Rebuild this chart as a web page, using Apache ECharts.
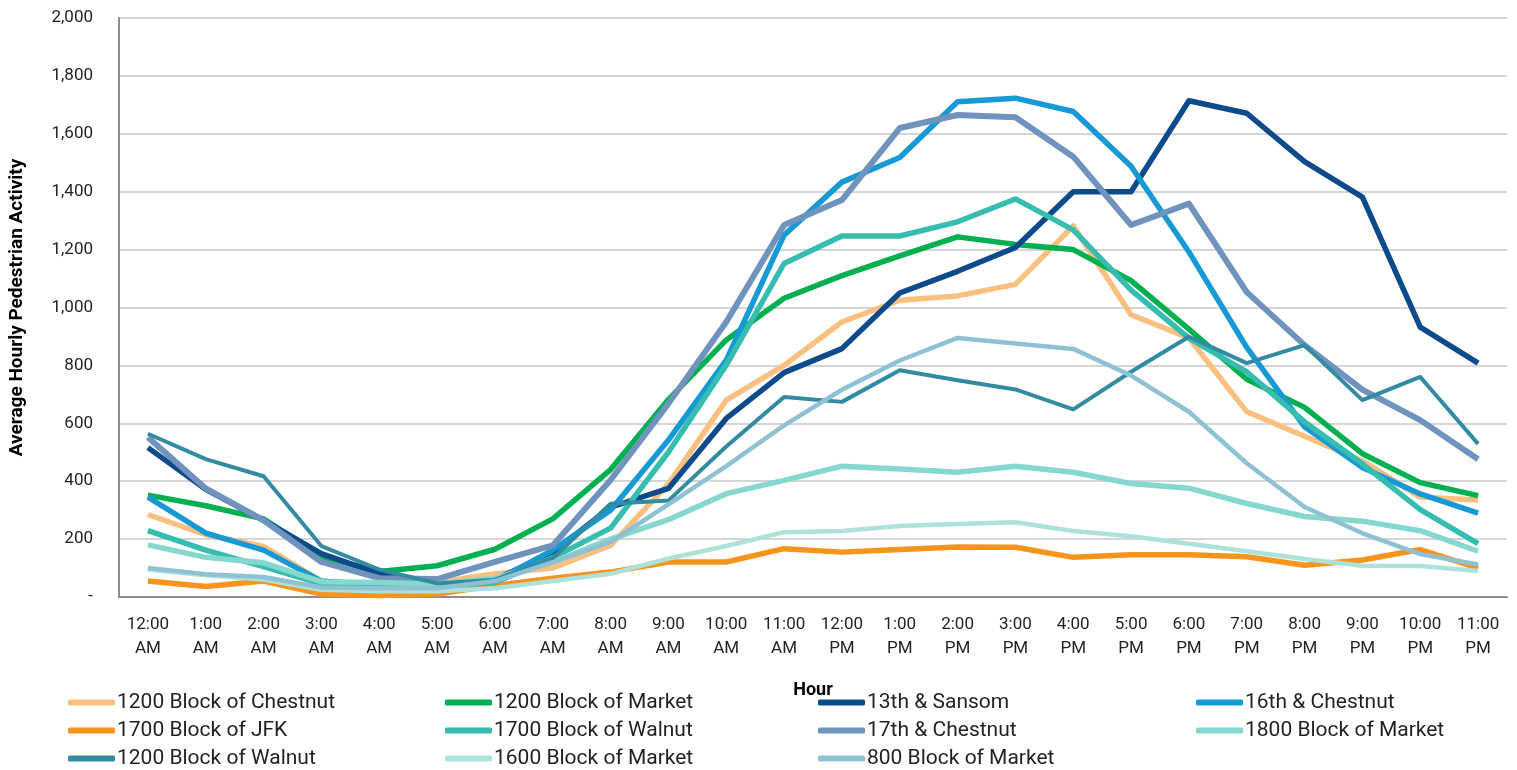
<!DOCTYPE html>
<html>
<head>
<meta charset="utf-8">
<script src="https://cdn.jsdelivr.net/npm/echarts@6/dist/echarts.min.js"></script>
<style>
  html, body { margin: 0; padding: 0; background: #fff; }
  #chart { width: 1517px; height: 770px; }
</style>
</head>
<body>
<div id="chart"></div>
<script>
// hours of the day
const hours = ['12:00\nAM', '1:00\nAM', '2:00\nAM', '3:00\nAM', '4:00\nAM', '5:00\nAM', '6:00\nAM', '7:00\nAM',
  '8:00\nAM', '9:00\nAM', '10:00\nAM', '11:00\nAM', '12:00\nPM', '1:00\nPM', '2:00\nPM', '3:00\nPM',
  '4:00\nPM', '5:00\nPM', '6:00\nPM', '7:00\nPM', '8:00\nPM', '9:00\nPM', '10:00\nPM', '11:00\nPM']

// average hourly pedestrian counts
const chestnut1200 = [285, 215, 175, 55, 35, 50, 80, 100, 178, 390, 680, 800, 950, 1025, 1040, 1080, 1282, 975, 895, 640, 555, 470, 345, 335]
const market1200 = [352, 315, 270, 140, 88, 108, 165, 270, 440, 682, 888, 1032, 1110, 1178, 1244, 1218, 1200, 1093, 925, 752, 655, 495, 395, 350]
const sansom13 = [516, 372, 265, 150, 80, 45, 60, 155, 310, 375, 617, 775, 858, 1050, 1125, 1207, 1400, 1400, 1714, 1671, 1504, 1381, 932, 808]
const chestnut16 = [345, 221, 162, 55, 40, 35, 55, 162, 300, 542, 818, 1250, 1433, 1518, 1711, 1723, 1677, 1488, 1192, 862, 588, 447, 356, 290]
const jfk1700 = [55, 36, 55, 10, 5, 10, 40, 65, 86, 121, 121, 167, 155, 164, 173, 172, 137, 146, 146, 139, 110, 128, 164, 100]
const walnut1700 = [229, 162, 105, 45, 40, 35, 50, 136, 238, 500, 801, 1152, 1247, 1247, 1296, 1375, 1268, 1060, 894, 778, 605, 460, 302, 184]
const chestnut17 = [552, 375, 265, 121, 65, 62, 121, 178, 404, 668, 950, 1285, 1371, 1620, 1665, 1657, 1521, 1285, 1359, 1053, 870, 716, 611, 476]
const market1800 = [180, 137, 118, 53, 50, 45, 65, 120, 200, 267, 357, 403, 452, 442, 431, 452, 431, 392, 376, 323, 278, 262, 229, 158]
const walnut1200 = [564, 476, 417, 176, 95, 47, 60, 134, 322, 333, 520, 691, 674, 783, 749, 717, 648, 778, 899, 808, 870, 680, 760, 529]
const market1600 = [95, 75, 60, 25, 20, 20, 30, 55, 80, 133, 176, 224, 228, 245, 252, 258, 228, 210, 184, 158, 131, 108, 107, 90]
const market800 = [100, 79, 69, 33, 30, 30, 55, 120, 190, 320, 452, 593, 716, 817, 895, 876, 857, 765, 640, 462, 311, 220, 148, 112]

const yTicks = { min: 0, max: 2000, step: 200 }

const chart = echarts.init(document.getElementById('chart'))
const font = 'Roboto, "DejaVu Sans", sans-serif'

function line(name, data, color, width) {
  return {
    name: name,
    type: 'line',
    data: data,
    symbol: 'none',
    color: color,
    lineStyle: { color: color, width: width, join: 'round' },
    animation: false
  }
}

const series = [
  line('1200 Block of Chestnut', chestnut1200, '#fac080', 5.5),
  line('1200 Block of Market', market1200, '#00b050', 5.5),
  line('13th & Sansom', sansom13, '#0d4a8b', 5.5),
  line('16th & Chestnut', chestnut16, '#1799d6', 5.5),
  line('1700 Block of JFK', jfk1700, '#f7941d', 5.5),
  line('1700 Block of Walnut', walnut1700, '#36bdb0', 5.5),
  line('17th & Chestnut', chestnut17, '#7093bd', 6),
  line('1800 Block of Market', market1800, '#86d7cd', 5.5),
  line('1200 Block of Walnut', walnut1200, '#328ba0', 4),
  line('1600 Block of Market', market1600, '#ade1d9', 4.5),
  line('800 Block of Market', market800, '#8fc1d4', 4.5)
]

// 4 columns x 3 rows, one small legend per cell so everything lines up
const colLeft = [68, 445, 818, 1196]
const rowTop = [692, 720, 748]
const legends = series.map(function (s, i) {
  return {
    left: colLeft[i % 4],
    top: rowTop[Math.floor(i / 4)],
    padding: 0,
    itemWidth: 47,
    itemHeight: 6,
    itemGap: 0,
    icon: 'roundRect',
    data: [s.name],
    textStyle: { fontFamily: font, fontSize: 21, color: '#231f20', padding: [0, 0, 0, -3] }
  }
})

const option = {
  animation: false,
  grid: { left: 118, right: 10, top: 18, bottom: 173 },
  legend: legends,
  xAxis: {
    type: 'category',
    data: hours,
    boundaryGap: true,
    name: 'Hour',
    nameLocation: 'middle',
    nameGap: 84,
    nameTextStyle: { fontFamily: font, fontSize: 18, fontWeight: 'bold', color: '#000' },
    axisLine: { lineStyle: { color: '#8c8c8c', width: 2 } },
    axisTick: { show: false },
    axisLabel: { fontFamily: font, fontSize: 17, color: '#231f20', lineHeight: 24, margin: 16, interval: 0 }
  },
  yAxis: {
    type: 'value',
    min: yTicks.min,
    max: yTicks.max,
    interval: yTicks.step,
    name: 'Average Hourly Pedestrian Activity',
    nameLocation: 'middle',
    nameGap: 92,
    nameTextStyle: { fontFamily: font, fontSize: 19, fontWeight: 'bold', color: '#000' },
    axisLine: { show: true, lineStyle: { color: '#8c8c8c', width: 2 } },
    axisTick: { show: false },
    splitLine: { lineStyle: { color: '#c8c8c8', width: 1.5 } },
    axisLabel: {
      fontFamily: font, fontSize: 17, color: '#231f20', margin: 26,
      formatter: function (v) { return v === 0 ? '-' : v.toLocaleString('en-US') }
    }
  },
  series: series
}

chart.setOption(option)
</script>
</body>
</html>
